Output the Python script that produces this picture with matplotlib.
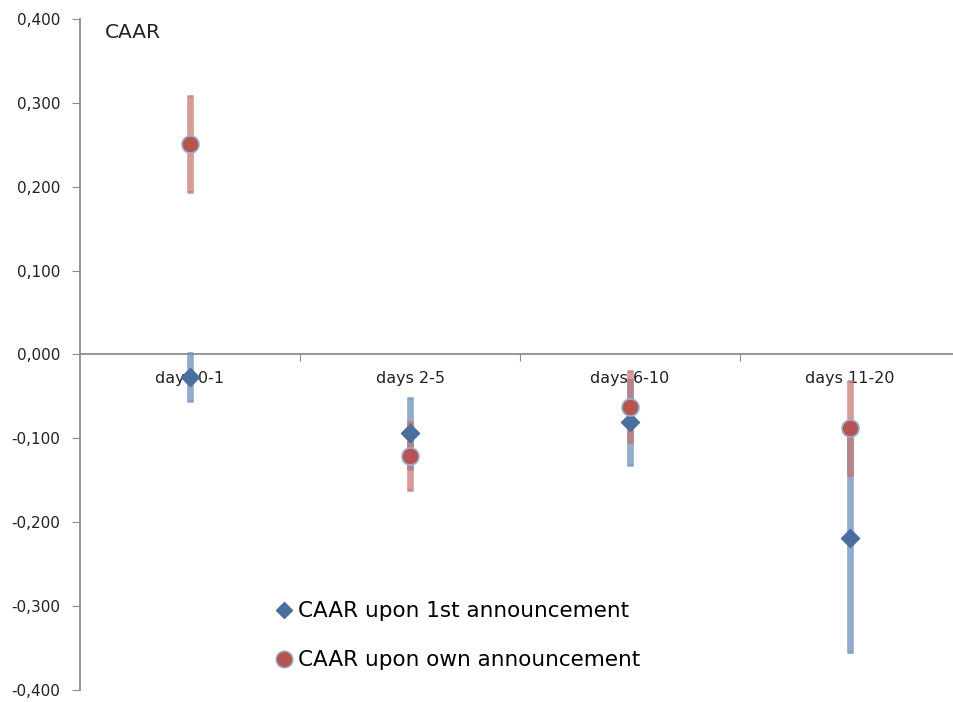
import matplotlib
matplotlib.use("Agg")
import matplotlib.pyplot as plt
from matplotlib.lines import Line2D
from matplotlib.ticker import FuncFormatter

# categories and values
categories = ["days 0-1", "days 2-5", "days 6-10", "days 11-20"]
caar_first = [-0.027, -0.094, -0.081, -0.219]
err_first = [0.029, 0.042, 0.051, 0.136]
caar_own = [0.251, -0.121, -0.062, -0.088]
err_own = [0.057, 0.041, 0.042, 0.056]
y_ticks = [-0.4, -0.3, -0.2, -0.1, 0.0, 0.1, 0.2, 0.3, 0.4]

plt.rcParams["font.family"] = ["DejaVu Sans"]

fig = plt.figure(figsize=(9.54, 7.02), dpi=100)
ax = fig.add_axes([80 / 954, 1 - 690 / 702, 1 - 80 / 954, (690 - 19) / 702])

xs = [i + 0.5 for i in range(len(categories))]

# error bars
ax.errorbar(xs, caar_first, yerr=err_first, fmt="none", ecolor="#7f9cc4",
            elinewidth=4.8, capsize=2.5, capthick=2, alpha=0.85, zorder=2)
ax.errorbar(xs, caar_own, yerr=err_own, fmt="none", ecolor="#c47470",
            elinewidth=4.8, capsize=2.5, capthick=2, alpha=0.7, zorder=3)

# markers
ax.scatter(xs, caar_first, marker="D", s=85, color="#4a6e9e", zorder=4)
ax.scatter(xs, caar_own, marker="o", s=150, color="#b55450",
           edgecolors="#9aaed0", linewidths=1.2, zorder=5)

# category labels just under the zero line
for x, c in zip(xs, categories):
    ax.text(x, -0.029, c, ha="center", va="center", fontsize=11.5,
            color="#222222", zorder=1)

ax.set_xlim(0, 874 / 220)
ax.set_ylim(-0.4, 0.4)
ax.set_yticks(y_ticks)
ax.yaxis.set_major_formatter(FuncFormatter(lambda v, p: f"{v:.3f}".replace(".", ",")))
ax.set_xticks([1, 2, 3])
ax.set_xticklabels([])

for s in ["top", "right"]:
    ax.spines[s].set_visible(False)
ax.spines["bottom"].set_position(("data", 0))
for s in ["left", "bottom"]:
    ax.spines[s].set_color("#8c8c8c")
    ax.spines[s].set_linewidth(1.3)
ax.tick_params(axis="y", direction="out", length=6, color="#8c8c8c",
               labelsize=11, labelcolor="#222222", pad=8)
ax.tick_params(axis="x", direction="out", length=5, color="#8c8c8c")

fig.text(105 / 954, 1 - 32 / 702, "CAAR", fontsize=14.5, va="center", color="#222222")

handles = [
    Line2D([], [], marker="D", linestyle="none", color="#4a6e9e", markersize=8),
    Line2D([], [], marker="o", linestyle="none", color="#b55450",
           markeredgecolor="#9aaed0", markersize=12),
]
fig.legend(handles, ["CAAR upon 1st announcement", "CAAR upon own announcement"],
           loc="upper left", bbox_to_anchor=(252 / 954, 1 - 582 / 702),
           frameon=False, fontsize=15.5, handletextpad=0.05, labelspacing=1.35,
           handlelength=1.2)

fig.savefig("out.png", dpi=100)
